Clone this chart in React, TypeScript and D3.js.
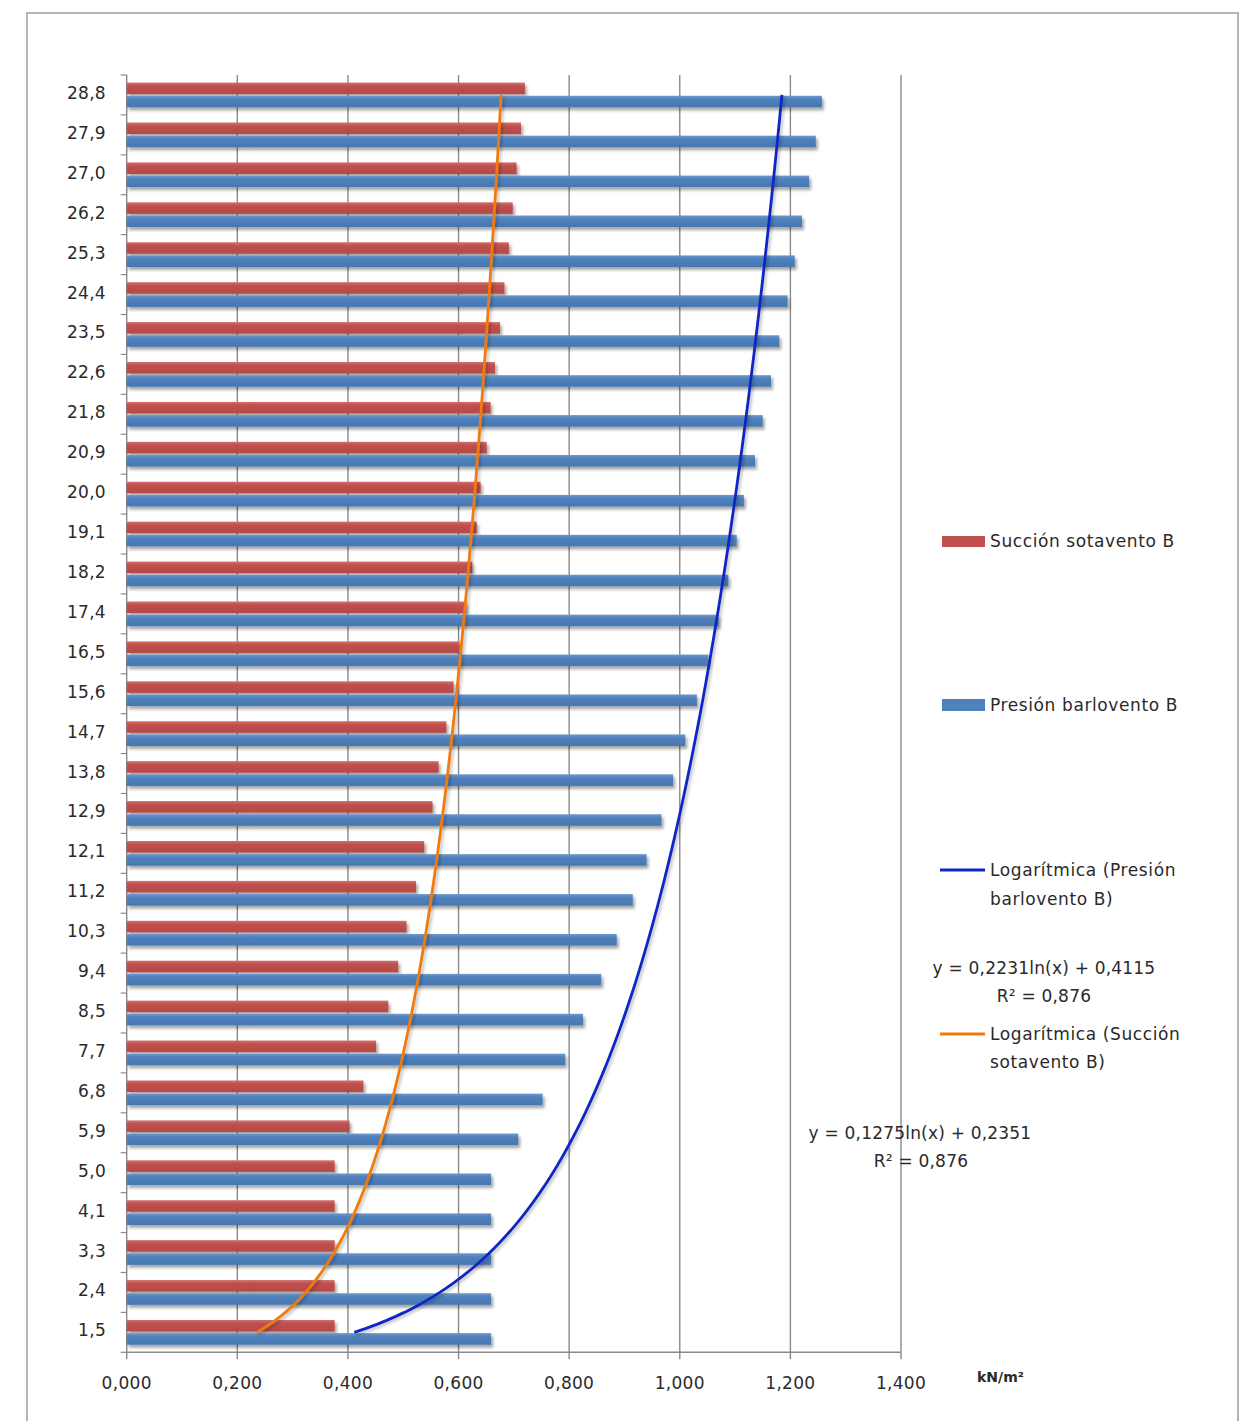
import React from "react";
import * as d3 from "d3";

const categories = ["1,5","2,4","3,3","4,1","5,0","5,9","6,8","7,7","8,5","9,4","10,3","11,2","12,1","12,9","13,8","14,7","15,6","16,5","17,4","18,2","19,1","20,0","20,9","21,8","22,6","23,5","24,4","25,3","26,2","27,0","27,9","28,8"];
const succion = [0.376,0.376,0.376,0.376,0.376,0.403,0.428,0.451,0.473,0.491,0.506,0.523,0.538,0.553,0.564,0.578,0.591,0.602,0.614,0.625,0.633,0.640,0.651,0.658,0.666,0.675,0.683,0.691,0.698,0.705,0.713,0.720];
const presion = [0.659,0.659,0.659,0.659,0.659,0.708,0.752,0.793,0.825,0.858,0.886,0.915,0.940,0.967,0.988,1.010,1.031,1.052,1.070,1.088,1.103,1.116,1.136,1.150,1.165,1.180,1.195,1.208,1.221,1.234,1.246,1.257];
const xTicks = [0, 0.2, 0.4, 0.6, 0.8, 1.0, 1.2, 1.4];
const trendPresion = { a: 0.2231, b: 0.4115 };
const trendSuccion = { a: 0.1275, b: 0.2351 };
const seriesNames = ["Succión sotavento B", "Presión barlovento B"];

const FONT = "'DejaVu Sans', sans-serif";
const TXT = "#2a2a2a";
const RED = "#C0504D";
const BLUE = "#4F81BD";
const GRID = "#8a8a8a";

export default function App() {
  const left = 126.7, right = 901, top = 75, bottom = 1352.3;
  const x = d3.scaleLinear().domain([0, 1.4]).range([left, right]);
  const y = d3.scaleBand<string>().domain(categories.slice().reverse()).range([top, bottom]).padding(0);
  const bw = y.bandwidth();
  const sub = d3.scaleBand<string>().domain(["s", "p"]).range([0.19 * bw, 0.81 * bw]).paddingInner(0.12);
  const n = categories.length;
  const yIdx = d3.scaleLinear().domain([1, n]).range([
    (y(categories[0]) as number) + bw / 2,
    (y(categories[n - 1]) as number) + bw / 2,
  ]);
  const ts = d3.range(1, n + 0.001, 0.1);
  const line = (tr: { a: number; b: number }) =>
    d3.line<number>()
      .x((t) => x(tr.a * Math.log(t) + tr.b))
      .y((t) => yIdx(t))
      .curve(d3.curveLinear)(ts) as string;
  const fmt = (v: number) => d3.format(".3f")(v).replace(".", ",");
  const boundaries = d3.range(0, n + 1).map((i) => top + i * bw);
  const LS = 0.6;

  return (
    <svg width={1247} height={1421} style={{ position: "absolute", left: 0, top: 0, display: "block", background: "#fff" }} fontFamily={FONT}>
      <defs>
        <filter id="sh" x="-5%" y="-50%" width="110%" height="250%">
          <feDropShadow dx="2" dy="3" stdDeviation="1.6" floodColor="#000" floodOpacity="0.35" />
        </filter>
        <filter id="lsh" x="-20%" y="-5%" width="140%" height="110%">
          <feDropShadow dx="2" dy="2" stdDeviation="1.5" floodColor="#000" floodOpacity="0.25" />
        </filter>
        <linearGradient id="gRed" x1="0" y1="0" x2="0" y2="1">
          <stop offset="0" stopColor="#d0716e" />
          <stop offset="0.3" stopColor={RED} />
          <stop offset="1" stopColor="#b44a47" />
        </linearGradient>
        <linearGradient id="gBlue" x1="0" y1="0" x2="0" y2="1">
          <stop offset="0" stopColor="#6f98c9" />
          <stop offset="0.3" stopColor={BLUE} />
          <stop offset="1" stopColor="#4677b0" />
        </linearGradient>
      </defs>
      <rect x={27} y={13} width={1211} height={1430} fill="#fff" stroke="#b5b5b5" strokeWidth={2} />

      {/* gridlines */}
      {xTicks.map((t) => (
        <line key={"g" + t} x1={x(t)} x2={x(t)} y1={top} y2={bottom + 7} stroke={GRID} strokeWidth={1.4} />
      ))}
      {/* y axis ticks */}
      {boundaries.map((b, i) => (
        <line key={"yt" + i} x1={left - 6} x2={left} y1={b} y2={b} stroke={GRID} strokeWidth={1.2} />
      ))}
      <line x1={left} x2={right} y1={bottom} y2={bottom} stroke={GRID} strokeWidth={1.4} />

      {/* bars */}
      <g filter="url(#sh)">
        {categories.map((c, i) => (
          <g key={"b" + c}>
            <rect x={x(0)} y={(y(c) as number) + (sub("s") as number)} width={x(succion[i]) - x(0)} height={sub.bandwidth()} fill="url(#gRed)" />
            <rect x={x(0)} y={(y(c) as number) + (sub("p") as number)} width={x(presion[i]) - x(0)} height={sub.bandwidth()} fill="url(#gBlue)" />
          </g>
        ))}
      </g>

      {/* trend lines */}
      <g filter="url(#lsh)">
        <path d={line(trendSuccion)} fill="none" stroke="#F07A10" strokeWidth={2.8} />
        <path d={line(trendPresion)} fill="none" stroke="#1026C4" strokeWidth={2.8} />
      </g>

      {/* y labels */}
      {categories.map((c) => (
        <text key={"yl" + c} x={106} y={(y(c) as number) + bw / 2 - 2} textAnchor="end" dominantBaseline="central" fontSize={17} letterSpacing={0.3} fill={TXT}>{c}</text>
      ))}
      {/* x labels */}
      {xTicks.map((t) => (
        <text key={"xl" + t} x={x(t)} y={1383} textAnchor="middle" dominantBaseline="central" fontSize={17} letterSpacing={0.3} fill={TXT}>{fmt(t)}</text>
      ))}
      <text x={977} y={1377} dominantBaseline="central" fontSize={14} fontWeight="bold" fill={TXT}>kN/m²</text>

      {/* legend */}
      <rect x={942} y={536} width={43} height={11} fill={RED} />
      <text x={990} y={541} dominantBaseline="central" fontSize={17} letterSpacing={LS} fill={TXT}>{seriesNames[0]}</text>
      <rect x={942} y={699} width={43} height={12} fill={BLUE} />
      <text x={990} y={705} dominantBaseline="central" fontSize={17} letterSpacing={LS} fill={TXT}>{seriesNames[1]}</text>

      <line x1={940} x2={985} y1={870} y2={870} stroke="#1026C4" strokeWidth={2.8} />
      <text x={990} y={870} dominantBaseline="central" fontSize={17} letterSpacing={LS} fill={TXT}>Logarítmica (Presión</text>
      <text x={990} y={899} dominantBaseline="central" fontSize={17} letterSpacing={LS} fill={TXT}>barlovento B)</text>

      <text x={1044} y={968} textAnchor="middle" dominantBaseline="central" fontSize={17} letterSpacing={0.2} fill={TXT}>y = 0,2231ln(x) + 0,4115</text>
      <text x={1044} y={996} textAnchor="middle" dominantBaseline="central" fontSize={17} letterSpacing={0.2} fill={TXT}>R² = 0,876</text>

      <line x1={940} x2={985} y1={1034} y2={1034} stroke="#F07A10" strokeWidth={2.8} />
      <text x={990} y={1034} dominantBaseline="central" fontSize={17} letterSpacing={LS} fill={TXT}>Logarítmica (Succión</text>
      <text x={990} y={1062} dominantBaseline="central" fontSize={17} letterSpacing={LS} fill={TXT}>sotavento B)</text>

      <text x={920} y={1133} textAnchor="middle" dominantBaseline="central" fontSize={17} letterSpacing={0.2} fill={TXT}>y = 0,1275ln(x) + 0,2351</text>
      <text x={921} y={1161} textAnchor="middle" dominantBaseline="central" fontSize={17} letterSpacing={0.2} fill={TXT}>R² = 0,876</text>
    </svg>
  );
}
